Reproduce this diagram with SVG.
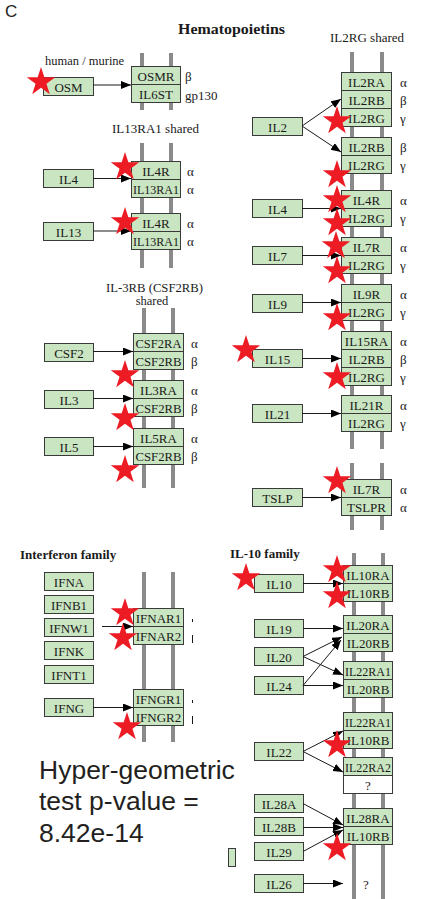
<svg xmlns="http://www.w3.org/2000/svg" xmlns:xlink="http://www.w3.org/1999/xlink" width="442" height="899" viewBox="0 0 442 899">
<defs>
<style>
.box{fill:#c9e5c1;stroke:#3a3a3a;stroke-width:1}
.wbox{fill:#ffffff;stroke:#3a3a3a;stroke-width:1}
.lbl{font-family:"Liberation Serif",serif;font-size:13px;text-anchor:middle;fill:#1a1a1a}
.gr{font-family:"Liberation Serif",serif;font-size:13px;fill:#1a1a1a}
.ttl{font-family:"Liberation Serif",serif;font-size:13px;fill:#1a1a1a}
.bold{font-family:"Liberation Serif",serif;font-size:13px;font-weight:bold;fill:#1a1a1a}
.bar{stroke:#8a8a8a;stroke-width:4;fill:none}
.conn{stroke:#1a1a1a;stroke-width:1;fill:none;marker-end:url(#ah)}
.star{fill:#ed1c24}
.big{font-family:"Liberation Sans",Arial,sans-serif;font-size:26.5px;fill:#231f20}
</style>
<marker id="ah" markerUnits="userSpaceOnUse" markerWidth="11" markerHeight="9" refX="10" refY="4" orient="auto">
<path d="M0,0 L10,4 L0,8 Z" fill="#000"/>
</marker>
<path id="star" d="M0,-15 L3.37,-4.64 L14.27,-4.64 L5.45,1.77 L8.82,12.14 L0,5.73 L-8.82,12.14 L-5.45,1.77 L-14.27,-4.64 L-3.37,-4.64 Z"/>
</defs>
<rect width="442" height="899" fill="#ffffff"/>

<!-- titles -->
<g id="titles">
<text x="5" y="17" font-family="Liberation Sans,Arial,sans-serif" font-size="17" fill="#231f20">C</text>
<text class="bold" x="178" y="34" textLength="107" lengthAdjust="spacingAndGlyphs" style="font-size:14px">Hematopoietins</text>
<text class="ttl" x="45" y="65" style="font-size:12.5px">human / murine</text>
<text class="ttl" x="330" y="42">IL2RG shared</text>
<text class="ttl" x="112" y="133">IL13RA1 shared</text>
<text class="ttl" x="106" y="292" style="font-size:12.5px" textLength="97" lengthAdjust="spacingAndGlyphs">IL-3RB (CSF2RB)</text>
<text class="ttl" x="152" y="305" text-anchor="middle" style="font-size:12.5px">shared</text>
<text class="bold" x="20" y="559">Interferon family</text>
<text class="bold" x="230" y="558">IL-10 family</text>
<text class="big" x="39" y="779">Hyper-geometric</text>
<text class="big" x="39" y="810">test p-value =</text>
<text class="big" x="39" y="842">8.42e-14</text>
</g>

<!-- membrane bars -->
<g id="bars">
<path class="bar" d="M142,53 V110 M171,53 V110"/>
<path class="bar" d="M142,143 V268 M171,143 V268"/>
<path class="bar" d="M144,308 V488 M173,308 V488"/>
<path class="bar" d="M352,52 V449 M382,52 V449"/>
<path class="bar" d="M352,463 V530 M382,463 V530"/>
<path class="bar" d="M144,572 V742 M173,572 V742"/>
<path class="bar" d="M354,553 V899 M383,553 V899"/>
</g>

<!-- ligand nodes -->
<g id="OSM"><rect class="box" x="43.5" y="77.5" width="50" height="18"/><text class="lbl" x="68.5" y="92">OSM</text></g>
<g id="IL4a"><rect class="box" x="43.5" y="169.5" width="50" height="18"/><text class="lbl" x="68.5" y="184">IL4</text></g>
<g id="IL13"><rect class="box" x="43.5" y="222.5" width="50" height="18"/><text class="lbl" x="68.5" y="237">IL13</text></g>
<g id="CSF2"><rect class="box" x="44.5" y="343.5" width="49" height="18"/><text class="lbl" x="69" y="358">CSF2</text></g>
<g id="IL3"><rect class="box" x="44.5" y="390.5" width="49" height="18"/><text class="lbl" x="69" y="405">IL3</text></g>
<g id="IL5"><rect class="box" x="44.5" y="437.5" width="49" height="18"/><text class="lbl" x="69" y="452">IL5</text></g>
<g id="IFNA"><rect class="box" x="44.5" y="572.5" width="49" height="18"/><text class="lbl" x="69" y="587">IFNA</text></g>
<g id="IFNB1"><rect class="box" x="44.5" y="595.5" width="49" height="18"/><text class="lbl" x="69" y="610">IFNB1</text></g>
<g id="IFNW1"><rect class="box" x="44.5" y="618.5" width="49" height="18"/><text class="lbl" x="69" y="633">IFNW1</text></g>
<g id="IFNK"><rect class="box" x="44.5" y="641.5" width="49" height="18"/><text class="lbl" x="69" y="656">IFNK</text></g>
<g id="IFNT1"><rect class="box" x="44.5" y="665.5" width="49" height="18"/><text class="lbl" x="69" y="680">IFNT1</text></g>
<g id="IFNG"><rect class="box" x="44.5" y="698.5" width="49" height="18"/><text class="lbl" x="69" y="713">IFNG</text></g>

<g id="IL2"><rect class="box" x="252.5" y="117.5" width="50" height="18"/><text class="lbl" x="277.5" y="132">IL2</text></g>
<g id="IL4b"><rect class="box" x="252.5" y="199.5" width="50" height="18"/><text class="lbl" x="277.5" y="214">IL4</text></g>
<g id="IL7"><rect class="box" x="252.5" y="246.5" width="50" height="18"/><text class="lbl" x="277.5" y="261">IL7</text></g>
<g id="IL9"><rect class="box" x="252.5" y="294.5" width="50" height="18"/><text class="lbl" x="277.5" y="309">IL9</text></g>
<g id="IL15"><rect class="box" x="252.5" y="349.5" width="50" height="18"/><text class="lbl" x="277.5" y="364">IL15</text></g>
<g id="IL21"><rect class="box" x="252.5" y="404.5" width="50" height="18"/><text class="lbl" x="277.5" y="419">IL21</text></g>
<g id="TSLP"><rect class="box" x="252.5" y="488.5" width="50" height="18"/><text class="lbl" x="277.5" y="503">TSLP</text></g>

<g id="IL10"><rect class="box" x="254.5" y="574.5" width="49" height="18"/><text class="lbl" x="279" y="589">IL10</text></g>
<g id="IL19"><rect class="box" x="254.5" y="619.5" width="49" height="18"/><text class="lbl" x="279" y="634">IL19</text></g>
<g id="IL20"><rect class="box" x="254.5" y="647.5" width="49" height="18"/><text class="lbl" x="279" y="662">IL20</text></g>
<g id="IL24"><rect class="box" x="254.5" y="676.5" width="49" height="18"/><text class="lbl" x="279" y="691">IL24</text></g>
<g id="IL22"><rect class="box" x="254.5" y="742.5" width="49" height="18"/><text class="lbl" x="279" y="757">IL22</text></g>
<g id="IL28A"><rect class="box" x="254.5" y="794.5" width="49" height="18"/><text class="lbl" x="279" y="809">IL28A</text></g>
<g id="IL28B"><rect class="box" x="254.5" y="817.5" width="49" height="18"/><text class="lbl" x="279" y="832">IL28B</text></g>
<g id="IL29"><rect class="box" x="254.5" y="842.5" width="49" height="18"/><text class="lbl" x="279" y="857">IL29</text></g>
<g id="IL26"><rect class="box" x="254.5" y="874.5" width="49" height="18"/><text class="lbl" x="279" y="889">IL26</text></g>
<g id="partial"><rect class="box" x="228.5" y="848.5" width="7" height="18"/></g>

<!-- receptor nodes -->
<g id="OSMR-IL6ST">
<rect class="box" x="131.5" y="66.5" width="49" height="18"/><text class="lbl" x="156" y="81">OSMR</text>
<rect class="box" x="131.5" y="84.5" width="49" height="18"/><text class="lbl" x="156" y="99">IL6ST</text>
<text class="gr" x="185" y="81">β</text><text class="gr" x="185" y="100">gp130</text>
</g>
<g id="IL4R-IL13RA1-a">
<rect class="box" x="131.5" y="161.5" width="49" height="18"/><text class="lbl" x="156" y="176">IL4R</text>
<rect class="box" x="131.5" y="179.5" width="49" height="18"/><text class="lbl" x="156" y="194" textLength="46" lengthAdjust="spacingAndGlyphs">IL13RA1</text>
<text class="gr" x="187" y="176">α</text><text class="gr" x="187" y="194">α</text>
</g>
<g id="IL4R-IL13RA1-b">
<rect class="box" x="131.5" y="213.5" width="49" height="18"/><text class="lbl" x="156" y="228">IL4R</text>
<rect class="box" x="131.5" y="231.5" width="49" height="18"/><text class="lbl" x="156" y="246" textLength="46" lengthAdjust="spacingAndGlyphs">IL13RA1</text>
<text class="gr" x="187" y="228">α</text><text class="gr" x="187" y="246">α</text>
</g>
<g id="CSF2RA-CSF2RB">
<rect class="box" x="133.5" y="333.5" width="50" height="18"/><text class="lbl" x="158.5" y="348" textLength="46" lengthAdjust="spacingAndGlyphs">CSF2RA</text>
<rect class="box" x="133.5" y="351.5" width="50" height="18"/><text class="lbl" x="158.5" y="366" textLength="46" lengthAdjust="spacingAndGlyphs">CSF2RB</text>
<text class="gr" x="191" y="348">α</text><text class="gr" x="191" y="366">β</text>
</g>
<g id="IL3RA-CSF2RB">
<rect class="box" x="133.5" y="380.5" width="50" height="18"/><text class="lbl" x="158.5" y="395">IL3RA</text>
<rect class="box" x="133.5" y="398.5" width="50" height="18"/><text class="lbl" x="158.5" y="413" textLength="46" lengthAdjust="spacingAndGlyphs">CSF2RB</text>
<text class="gr" x="191" y="395">α</text><text class="gr" x="191" y="413">β</text>
</g>
<g id="IL5RA-CSF2RB">
<rect class="box" x="133.5" y="428.5" width="50" height="18"/><text class="lbl" x="158.5" y="443">IL5RA</text>
<rect class="box" x="133.5" y="446.5" width="50" height="18"/><text class="lbl" x="158.5" y="461" textLength="46" lengthAdjust="spacingAndGlyphs">CSF2RB</text>
<text class="gr" x="191" y="443">α</text><text class="gr" x="191" y="461">β</text>
</g>
<g id="IFNAR">
<rect class="box" x="133.5" y="608.5" width="50" height="18"/><text class="lbl" x="158.5" y="623">IFNAR1</text>
<rect class="box" x="133.5" y="626.5" width="50" height="18"/><text class="lbl" x="158.5" y="641">IFNAR2</text>
<path d="M192.5,619 V622 M192.5,635 V643" stroke="#1a1a1a" stroke-width="1"/>
</g>
<g id="IFNGR">
<rect class="box" x="133.5" y="689.5" width="50" height="18"/><text class="lbl" x="158.5" y="704">IFNGR1</text>
<rect class="box" x="133.5" y="707.5" width="50" height="18"/><text class="lbl" x="158.5" y="722">IFNGR2</text>
<path d="M192.5,700 V703 M192.5,716 V724" stroke="#1a1a1a" stroke-width="1"/>
</g>

<g id="IL2R-high">
<rect class="box" x="341.5" y="72.5" width="50" height="18"/><text class="lbl" x="366.5" y="87">IL2RA</text>
<rect class="box" x="341.5" y="90.5" width="50" height="18"/><text class="lbl" x="366.5" y="105">IL2RB</text>
<rect class="box" x="341.5" y="108.5" width="50" height="18"/><text class="lbl" x="366.5" y="123">IL2RG</text>
<text class="gr" x="400" y="87">α</text><text class="gr" x="400" y="105">β</text><text class="gr" x="400" y="123">γ</text>
</g>
<g id="IL2R-int">
<rect class="box" x="341.5" y="137.5" width="50" height="18"/><text class="lbl" x="366.5" y="152">IL2RB</text>
<rect class="box" x="341.5" y="155.5" width="50" height="18"/><text class="lbl" x="366.5" y="170">IL2RG</text>
<text class="gr" x="400" y="152">β</text><text class="gr" x="400" y="170">γ</text>
</g>
<g id="IL4R-IL2RG">
<rect class="box" x="341.5" y="190.5" width="50" height="18"/><text class="lbl" x="366.5" y="205">IL4R</text>
<rect class="box" x="341.5" y="208.5" width="50" height="18"/><text class="lbl" x="366.5" y="223">IL2RG</text>
<text class="gr" x="400" y="205">α</text><text class="gr" x="400" y="223">γ</text>
</g>
<g id="IL7R-IL2RG">
<rect class="box" x="341.5" y="237.5" width="50" height="18"/><text class="lbl" x="366.5" y="252">IL7R</text>
<rect class="box" x="341.5" y="255.5" width="50" height="18"/><text class="lbl" x="366.5" y="270">IL2RG</text>
<text class="gr" x="400" y="252">α</text><text class="gr" x="400" y="270">γ</text>
</g>
<g id="IL9R-IL2RG">
<rect class="box" x="341.5" y="284.5" width="50" height="18"/><text class="lbl" x="366.5" y="299">IL9R</text>
<rect class="box" x="341.5" y="302.5" width="50" height="18"/><text class="lbl" x="366.5" y="317">IL2RG</text>
<text class="gr" x="400" y="299">α</text><text class="gr" x="400" y="317">γ</text>
</g>
<g id="IL15R">
<rect class="box" x="341.5" y="331.5" width="50" height="18"/><text class="lbl" x="366.5" y="346">IL15RA</text>
<rect class="box" x="341.5" y="349.5" width="50" height="18"/><text class="lbl" x="366.5" y="364">IL2RB</text>
<rect class="box" x="341.5" y="367.5" width="50" height="18"/><text class="lbl" x="366.5" y="382">IL2RG</text>
<text class="gr" x="400" y="346">α</text><text class="gr" x="400" y="364">β</text><text class="gr" x="400" y="382">γ</text>
</g>
<g id="IL21R-IL2RG">
<rect class="box" x="341.5" y="395.5" width="50" height="18"/><text class="lbl" x="366.5" y="410">IL21R</text>
<rect class="box" x="341.5" y="413.5" width="50" height="18"/><text class="lbl" x="366.5" y="428">IL2RG</text>
<text class="gr" x="400" y="410">α</text><text class="gr" x="400" y="428">γ</text>
</g>
<g id="IL7R-TSLPR">
<rect class="box" x="341.5" y="479.5" width="50" height="18"/><text class="lbl" x="366.5" y="494">IL7R</text>
<rect class="box" x="341.5" y="497.5" width="50" height="18"/><text class="lbl" x="366.5" y="512">TSLPR</text>
<text class="gr" x="400" y="494">α</text><text class="gr" x="400" y="512">α</text>
</g>

<g id="IL10R">
<rect class="box" x="343.5" y="565.5" width="49" height="18"/><text class="lbl" x="368" y="580">IL10RA</text>
<rect class="box" x="343.5" y="583.5" width="49" height="18"/><text class="lbl" x="368" y="598">IL10RB</text>
</g>
<g id="IL20R-1">
<rect class="box" x="343.5" y="615.5" width="49" height="18"/><text class="lbl" x="368" y="630">IL20RA</text>
<rect class="box" x="343.5" y="633.5" width="49" height="18"/><text class="lbl" x="368" y="648">IL20RB</text>
</g>
<g id="IL20R-2">
<rect class="box" x="343.5" y="661.5" width="49" height="18"/><text class="lbl" x="368" y="676" textLength="46" lengthAdjust="spacingAndGlyphs">IL22RA1</text>
<rect class="box" x="343.5" y="679.5" width="49" height="18"/><text class="lbl" x="368" y="694">IL20RB</text>
</g>
<g id="IL22R">
<rect class="box" x="343.5" y="712.5" width="49" height="18"/><text class="lbl" x="368" y="727" textLength="46" lengthAdjust="spacingAndGlyphs">IL22RA1</text>
<rect class="box" x="343.5" y="730.5" width="49" height="18"/><text class="lbl" x="368" y="745">IL10RB</text>
</g>
<g id="IL22RA2">
<rect class="box" x="343.5" y="757.5" width="49" height="18"/><text class="lbl" x="368" y="772" textLength="46" lengthAdjust="spacingAndGlyphs">IL22RA2</text>
<rect class="wbox" x="343.5" y="775.5" width="49" height="18"/><text class="lbl" x="368" y="790">?</text>
</g>
<g id="IL28R">
<rect class="box" x="343.5" y="808.5" width="49" height="18"/><text class="lbl" x="368" y="823">IL28RA</text>
<rect class="box" x="343.5" y="826.5" width="49" height="18"/><text class="lbl" x="368" y="841">IL10RB</text>
</g>
<g id="IL26R"><text class="lbl" x="366" y="889">?</text></g>

<!-- connectors -->
<g id="connectors">
<line class="conn" x1="93" y1="85" x2="131" y2="85"/>
<line class="conn" x1="93" y1="178.5" x2="131" y2="178.5"/>
<line class="conn" x1="93" y1="231" x2="131" y2="231"/>
<line class="conn" x1="93" y1="351.5" x2="133" y2="351.5"/>
<line class="conn" x1="93" y1="398.5" x2="133" y2="398.5"/>
<line class="conn" x1="93" y1="446.5" x2="133" y2="446.5"/>
<line class="conn" x1="102" y1="626.5" x2="133" y2="626.5"/>
<line class="conn" x1="93" y1="707.5" x2="133" y2="707.5"/>
<line class="conn" x1="302" y1="126" x2="341" y2="99"/>
<line class="conn" x1="302" y1="126" x2="341" y2="152"/>
<line class="conn" x1="302" y1="208.5" x2="341" y2="208.5"/>
<line class="conn" x1="302" y1="255.5" x2="341" y2="255.5"/>
<line class="conn" x1="302" y1="302.5" x2="341" y2="302.5"/>
<line class="conn" x1="302" y1="358.5" x2="341" y2="358.5"/>
<line class="conn" x1="302" y1="413.5" x2="341" y2="413.5"/>
<line class="conn" x1="302" y1="497.5" x2="341" y2="497.5"/>
<line class="conn" x1="303" y1="583.5" x2="343" y2="583.5"/>
<line class="conn" x1="303" y1="628.5" x2="343" y2="628.5"/>
<line class="conn" x1="303" y1="656.5" x2="342" y2="637"/>
<line class="conn" x1="303" y1="656.5" x2="343" y2="675"/>
<line class="conn" x1="303" y1="685.5" x2="343" y2="685.5"/>
<line class="conn" x1="303" y1="685.5" x2="341" y2="640"/>
<line class="conn" x1="303" y1="751.5" x2="343" y2="731"/>
<line class="conn" x1="303" y1="751.5" x2="343" y2="772"/>
<line class="conn" x1="303" y1="803.5" x2="343" y2="825"/>
<line class="conn" x1="303" y1="827.5" x2="343" y2="827.5"/>
<line class="conn" x1="303" y1="851.5" x2="343" y2="830"/>
<line class="conn" x1="303" y1="883.5" x2="343" y2="883.5"/>
</g>

<!-- significance stars -->
<g id="stars" class="star">
<use xlink:href="#star" x="41" y="82"/>
<use xlink:href="#star" x="337" y="121"/>
<use xlink:href="#star" x="337" y="175"/>
<use xlink:href="#star" x="337" y="200"/>
<use xlink:href="#star" x="337" y="223"/>
<use xlink:href="#star" x="336" y="246"/>
<use xlink:href="#star" x="337" y="271"/>
<use xlink:href="#star" x="337" y="318"/>
<use xlink:href="#star" x="246" y="350"/>
<use xlink:href="#star" x="337" y="377"/>
<use xlink:href="#star" x="337" y="481"/>
<use xlink:href="#star" x="125" y="167"/>
<use xlink:href="#star" x="125" y="222"/>
<use xlink:href="#star" x="125" y="375"/>
<use xlink:href="#star" x="125" y="418"/>
<use xlink:href="#star" x="125" y="470"/>
<use xlink:href="#star" x="125" y="613"/>
<use xlink:href="#star" x="123" y="638"/>
<use xlink:href="#star" x="127" y="727"/>
<use xlink:href="#star" x="246" y="578"/>
<use xlink:href="#star" x="337" y="570"/>
<use xlink:href="#star" x="337" y="596"/>
<use xlink:href="#star" x="337" y="745"/>
<use xlink:href="#star" x="337" y="848"/>
</g>
</svg>
